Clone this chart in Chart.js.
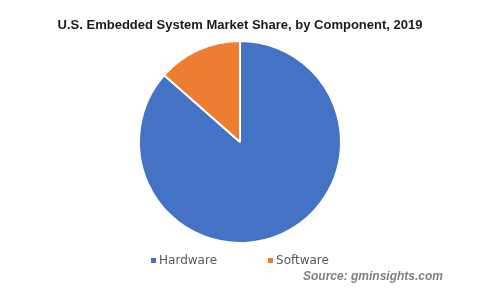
<!DOCTYPE html>
<html>
<head>
<meta charset="utf-8">
<script src="https://cdn.jsdelivr.net/npm/chart.js@4"></script>
<style>
  html, body { margin: 0; padding: 0; background: #fff; }
  #wrap { position: relative; width: 480px; height: 288px; }
  #legend {
    position: absolute; left: 0; top: 253px; width: 480px;
    display: flex; justify-content: center; gap: 51px;
    font: 12px/14px "DejaVu Sans", sans-serif; color: #595959;
  }
  #legend .item { display: flex; align-items: center; }
  #legend .box { width: 5px; height: 5px; margin-right: 3px; margin-top: 1px; }
  #source {
    position: absolute; right: 37px; top: 269px;
    font: italic bold 12px/14px "Liberation Sans", Arial, sans-serif; color: #7f7f7f;
  }
</style>
</head>
<body>
<div id="wrap">
  <canvas id="pieChart" width="480" height="288"></canvas>
  <div id="legend"></div>
  <div id="source">Source: gminsights.com</div>
</div>
<script>
const components = ["Hardware", "Software"];
const shares = [86.5, 13.5];
const colors = ["#4472C4", "#ED7D31"];

// Pie
const ctx = document.getElementById('pieChart').getContext('2d');
const chart = new Chart(ctx, {
  type: 'pie',
  data: {
    labels: components,
    datasets: [{ data: shares, backgroundColor: colors, borderColor: "#ffffff", borderWidth: 2 }]
  },
  options: {
    responsive: false,
    animation: false,
    layout: { padding: { top: 0, bottom: 44, left: 0, right: 0 } },
    plugins: {
      title: {
        display: true,
        text: "U.S. Embedded System Market Share, by Component, 2019",
        color: "#1a1a1a",
        font: { family: "'Liberation Sans', Arial, sans-serif", size: 13, weight: 'bold' },
        padding: { top: 18, bottom: 6.4 }
      },
      legend: { display: false },
      tooltip: { enabled: false }
    }
  }
});

// Legend built from the same arrays
const legend = document.getElementById('legend');
components.forEach((name, i) => {
  const item = document.createElement('div');
  item.className = 'item';
  const box = document.createElement('span');
  box.className = 'box';
  box.style.background = colors[i];
  item.appendChild(box);
  item.appendChild(document.createTextNode(name));
  legend.appendChild(item);
});
</script>
</body>
</html>
